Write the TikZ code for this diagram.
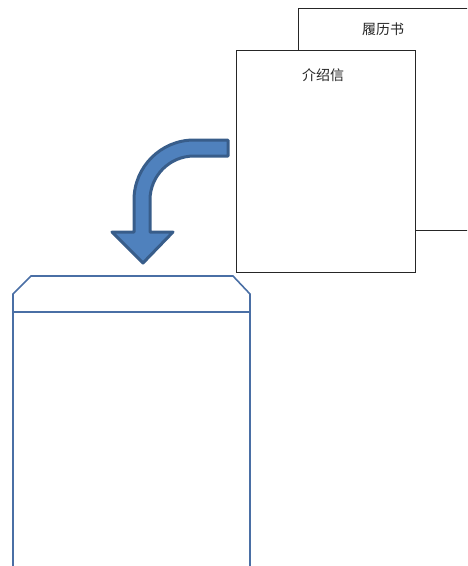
\documentclass[tikz,border=0pt]{standalone}
\usepackage{fontspec}
\newfontfamily\cjk{Noto Sans CJK SC}
\definecolor{arrowfill}{HTML}{4F81BD}
\definecolor{arrowline}{HTML}{385D8A}
\definecolor{envline}{HTML}{4A6FA5}
\begin{document}
\begin{tikzpicture}[x=1pt,y=-1pt,
  paper/.style={draw=black!85,line width=0.9pt,fill=white,inner sep=0pt,anchor=north west},
  caption/.style={font=\cjk\fontsize{14}{16}\selectfont,text=black!85,inner sep=0pt},
  envedge/.style={draw=envline,line width=1.6pt,line join=miter},
  bigarrow/.style={fill=arrowfill,draw=arrowline,line width=3pt,line join=round}]
\useasboundingbox (0,0) rectangle (467,566);
\clip (0,0) rectangle (467,566);
% back sheet
\node[paper,minimum width=171pt,minimum height=222pt] (resume) at (298,8) {};
\node[caption] (resumetxt) at (383,29) {履历书};
% front sheet
\node[paper,minimum width=179pt,minimum height=222pt] (letter) at (236,50) {};
\node[caption] (lettertxt) at (323,75) {介绍信};
% curved arrow
\path[bigarrow] (228,140) -- (194,140) arc[start angle=270,end angle=180,radius=60]
  -- (134,232) -- (112,232) -- (143,263) -- (173,232) -- (150,232) -- (150,200)
  arc[start angle=180,end angle=270,radius=44] -- (228,156) -- cycle;
% envelope
\coordinate (envbl) at (13,580);
\coordinate (envbr) at (250,580);
\coordinate (envfl) at (13,312);
\coordinate (envfr) at (250,312);
\draw[envedge] (envbl) -- (13,294) -- (31,276) -- (233,276) -- (250,294) -- (envbr);
\draw[envedge] (envfl) -- (envfr);
\end{tikzpicture}
\end{document}
